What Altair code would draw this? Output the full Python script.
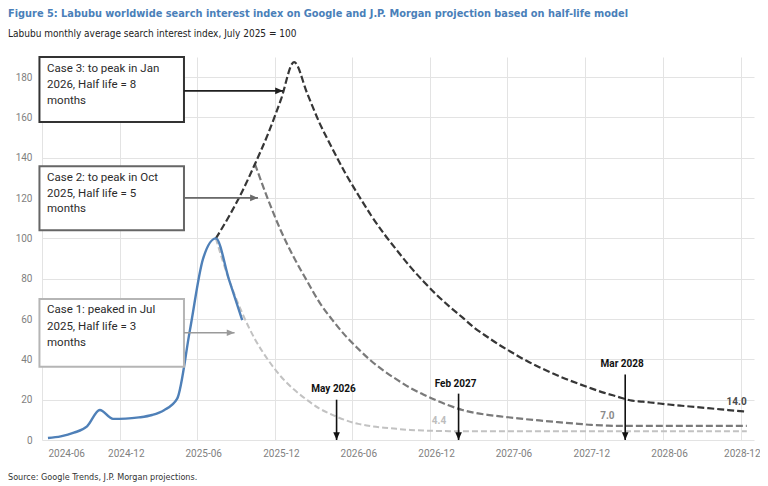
import altair as alt
import pandas as pd

# ------------------------------------------------------------------ data
title_text = ("Figure 5: Labubu worldwide search interest index on Google and "
              "J.P. Morgan projection based on half-life model")
subtitle_text = "Labubu monthly average search interest index, July 2025 = 100"
source_text = "Source: Google Trends, J.P. Morgan projections."

x_tick_labels = ["2024-06", "2024-12", "2025-06", "2025-12", "2026-06",
                 "2026-12", "2027-06", "2027-12", "2028-06", "2028-12"]
y_tick_values = [0, 20, 40, 60, 80, 100, 120, 140, 160, 180]
x_domain = ["2024-06-01", "2029-01-01"]
y_domain = [0, 190]

# actual Google Trends series (monthly average)
actual_months = ["2024-06", "2024-07", "2024-08", "2024-09", "2024-10", "2024-11",
                 "2024-12", "2025-01", "2025-02", "2025-03", "2025-04", "2025-05",
                 "2025-06", "2025-07", "2025-08", "2025-09"]
actual_values = [1.0, 1.8, 3.6, 6.8, 14.9, 10.5, 10.6, 11.2, 12.4, 14.8, 20.5,
                 54.5, 90.0, 100.0, 79.5, 59.5]

all_months = [f"{y}-{m:02d}" for y in range(2025, 2029) for m in range(1, 13)]
case3_months = all_months[6:]    # 2025-07 .. 2028-12
case2_months = all_months[9:]    # 2025-10 .. 2028-12
case1_months = all_months[6:]    # 2025-07 .. 2028-12

case3_values = [100.0, 111.0, 123.3, 136.9, 152.0, 168.8, 187.5,
                171.9, 157.7, 144.6, 132.6, 121.6, 111.5, 102.2, 93.8, 86.0, 78.8, 72.3,
                66.3, 60.8, 55.7, 51.1, 46.9, 43.0, 39.4, 36.1, 33.1, 30.4, 27.9, 25.6,
                23.4, 21.5, 19.7, 19.0, 18.3, 17.6, 17.0, 16.4, 15.8, 15.2, 14.6, 14.0]
case2_values = [136.9, 119.2, 103.8,
                90.4, 78.7, 68.5, 59.6, 51.9, 45.2, 39.3, 34.2, 29.8, 25.9, 22.6, 19.7,
                17.1, 14.9, 13.5, 12.5, 11.7, 11.0, 10.3, 9.7, 9.1, 8.5, 8.0, 7.5,
                7.2, 7.0, 7.0, 7.0, 7.0, 7.0, 7.0, 7.0, 7.0, 7.0, 7.0, 7.0]
case1_values = [100.0, 79.4, 63.0, 50.0, 39.7, 31.5,
                25.0, 19.8, 15.7, 12.5, 9.9, 8.0, 6.9, 6.1, 5.5, 5.0, 4.7, 4.5,
                4.4, 4.4, 4.4, 4.4, 4.4, 4.4, 4.4, 4.4, 4.4, 4.4, 4.4, 4.4,
                4.4, 4.4, 4.4, 4.4, 4.4, 4.4, 4.4, 4.4, 4.4, 4.4, 4.4, 4.4]

# value labels at the floors
floor_label_dates = ["2026-12-22", "2028-01-22", "2028-11-21"]
floor_label_values = [4.4, 7.0, 14.0]
floor_label_texts = ["4.4", "7.0", "14.0"]
floor_label_colors = ["#bdbdbd", "#8a8a8a", "#4a4a4a"]

# vertical arrows (time when each case fades)
fade_dates = ["2026-04-25", "2027-02-06", "2028-03-04"]
fade_tops = [20.0, 23.0, 32.5]
fade_label_values = [25.2, 27.8, 37.7]
fade_labels = ["May 2026", "Feb 2027", "Mar 2028"]

# callout boxes
box_left = "2024-05-26"
box_right = "2025-05-01"
box_text_x = "2024-06-01"
box_tops = [190.0, 135.8, 69.9]
box_bottoms = [157.8, 104.1, 36.3]
box_colors = ["#333333", "#666666", "#b5b5b5"]
box_lines = [["Case 3: to peak in Jan", "2026, Half life = 8", "months"],
             ["Case 2: to peak in Oct", "2025, Half life = 5", "months"],
             ["Case 1: peaked in Jul", "2025, Half life = 3", "months"]]
box_line_values = [[183.9, 176.0, 168.3], [130.0, 121.8, 114.4], [64.5, 56.2, 48.2]]
callout_values = [173.2, 120.1, 53.2]
callout_tips = ["2025-12-20", "2025-10-22", "2025-08-28"]
callout_colors = ["#1f1f1f", "#6a6a6a", "#9a9a9a"]

# ------------------------------------------------------------------ helpers
W, H = 712, 383
TICK_FONT = "Roboto"
BOX_FONT = "Roboto"
NARROW = "DejaVu Sans Condensed, DejaVu Sans, sans-serif"


def dt(s):
    y, m, d = (int(v) for v in s.split("-"))
    return alt.DateTime(year=y, month=m, date=d, utc=True)


xscale = alt.Scale(type="utc", domain=[dt(d) for d in x_domain])
yscale = alt.Scale(domain=y_domain, nice=False, zero=True)
xaxis = alt.Axis(values=[dt(t + "-01") for t in x_tick_labels],
                 labelExpr="utcFormat(datum.value, '%Y-%m')",
                 title=None, domain=False, ticks=False,
                 labelColor="#7f7f7f", labelFont=TICK_FONT, labelFontSize=10,
                 labelPadding=8,
                 labelOffset={"condition": {"test": "utcyear(datum.value) == 2028 && utcmonth(datum.value) == 11",
                                            "value": 1},
                              "value": 6},
                 labelOverlap=False,
                 gridColor="#e3e3e3", gridWidth=1)
yaxis = alt.Axis(values=y_tick_values, title=None, domain=False, ticks=False,
                 labelColor="#7f7f7f", labelFont=TICK_FONT, labelFontSize=10,
                 labelPadding=10, gridColor="#e3e3e3", gridWidth=1)


def X(field="date"):
    return alt.X(f"{field}:T", scale=xscale, axis=xaxis)


def Y(field="value"):
    return alt.Y(f"{field}:Q", scale=yscale, axis=yaxis)


def series(months, values):
    return pd.DataFrame({"date": [m + "-15" for m in months], "value": values})


# ------------------------------------------------------------------ layers
case1 = alt.Chart(series(case1_months, case1_values)).mark_line(
    color="#c2c2c2", strokeWidth=2, strokeDash=[6, 3], interpolate="monotone"
).encode(x=X(), y=Y())
case2 = alt.Chart(series(case2_months, case2_values)).mark_line(
    color="#7a7a7a", strokeWidth=2.2, strokeDash=[7, 3], interpolate="monotone"
).encode(x=X(), y=Y())
case3 = alt.Chart(series(case3_months, case3_values)).mark_line(
    color="#363636", strokeWidth=2.2, strokeDash=[7, 3], interpolate="monotone"
).encode(x=X(), y=Y())
actual = alt.Chart(series(actual_months, actual_values)).mark_line(
    color="#4f80b8", strokeWidth=2.4, interpolate="monotone"
).encode(x=X(), y=Y())

floor_df = pd.DataFrame({"date": floor_label_dates, "value": floor_label_values,
                         "label": floor_label_texts, "color": floor_label_colors})
floor_text = alt.Chart(floor_df).mark_text(
    font=TICK_FONT, fontSize=10, fontWeight="bold", dy=-10, baseline="middle"
).encode(x=X(), y=Y(), text="label:N", color=alt.Color("color:N", scale=None))

fade_df = pd.DataFrame({"date": fade_dates, "top": fade_tops, "zero": [0, 0, 0],
                        "lv": fade_label_values, "label": fade_labels})
fade_rule = alt.Chart(fade_df).mark_rule(color="#111111", strokeWidth=1.6).encode(
    x=X(), y=Y("top"), y2="zero:Q")
fade_head = alt.Chart(fade_df).mark_point(
    shape="M-1.1,-2.6L1.1,-2.6L0,0Z", filled=True, size=36, color="#111111", opacity=1
).encode(x=X(), y=Y("zero"))
fade_text = alt.Chart(fade_df).mark_text(
    font=TICK_FONT, fontSize=10, fontWeight="bold", color="#111111", dx=-3,
    baseline="middle"
).encode(x=X(), y=Y("lv"), text="label:N")

box_df = pd.DataFrame({"x1": [box_left] * 3, "x2": [box_right] * 3,
                       "y1": box_tops, "y2": box_bottoms, "color": box_colors})
boxes = alt.Chart(box_df).mark_rect(fill="white", strokeWidth=2).encode(
    x=X("x1"), x2="x2:T", y=Y("y1"), y2="y2:Q",
    stroke=alt.Stroke("color:N", scale=None))

line_rows = []
for lines, vals in zip(box_lines, box_line_values):
    for t, v in zip(lines, vals):
        line_rows.append({"date": box_text_x, "value": v, "label": t})
box_text = alt.Chart(pd.DataFrame(line_rows)).mark_text(
    font=BOX_FONT, fontSize=11.5, color="#2b2b2b", align="left", baseline="middle", dx=5
).encode(x=X(), y=Y(), text="label:N")

call_df = pd.DataFrame({"x1": [box_right] * 3, "x2": callout_tips,
                        "value": callout_values, "color": callout_colors})
call_rule = alt.Chart(call_df).mark_rule(strokeWidth=1.6).encode(
    x=X("x1"), x2="x2:T", y=Y(), color=alt.Color("color:N", scale=None))
call_head = alt.Chart(call_df).mark_point(
    shape="M-2.6,-1.1L-2.6,1.1L0,0Z", filled=True, size=36, opacity=1
).encode(x=X("x2"), y=Y(), color=alt.Color("color:N", scale=None))

footer = alt.Chart(pd.DataFrame({"label": [source_text]})).mark_text(
    font=NARROW, fontSize=9, color="#333333", align="left", baseline="middle"
).encode(x=alt.value(-34), y=alt.value(H + 37), text="label:N")

chart = alt.layer(
    case1, case2, case3, actual, floor_text,
    fade_rule, fade_head, fade_text,
    boxes, box_text, call_rule, call_head, footer
).properties(
    width=W, height=H,
    padding={"left": 34, "top": 49, "right": 6, "bottom": 45},
    autosize=alt.AutoSizeParams(type="none"),
    title=alt.TitleParams(
        text=title_text, subtitle=subtitle_text, anchor="start", frame="group",
        dx=-34, offset=17, font=NARROW, fontSize=10.9, fontWeight="bold",
        color="#4a7fb9", subtitleFont=NARROW, subtitleFontSize=10,
        subtitleColor="#222222", subtitlePadding=10)
).configure_view(stroke=None)

chart.save("out.html", embed_options={"renderer": "svg", "actions": False})
